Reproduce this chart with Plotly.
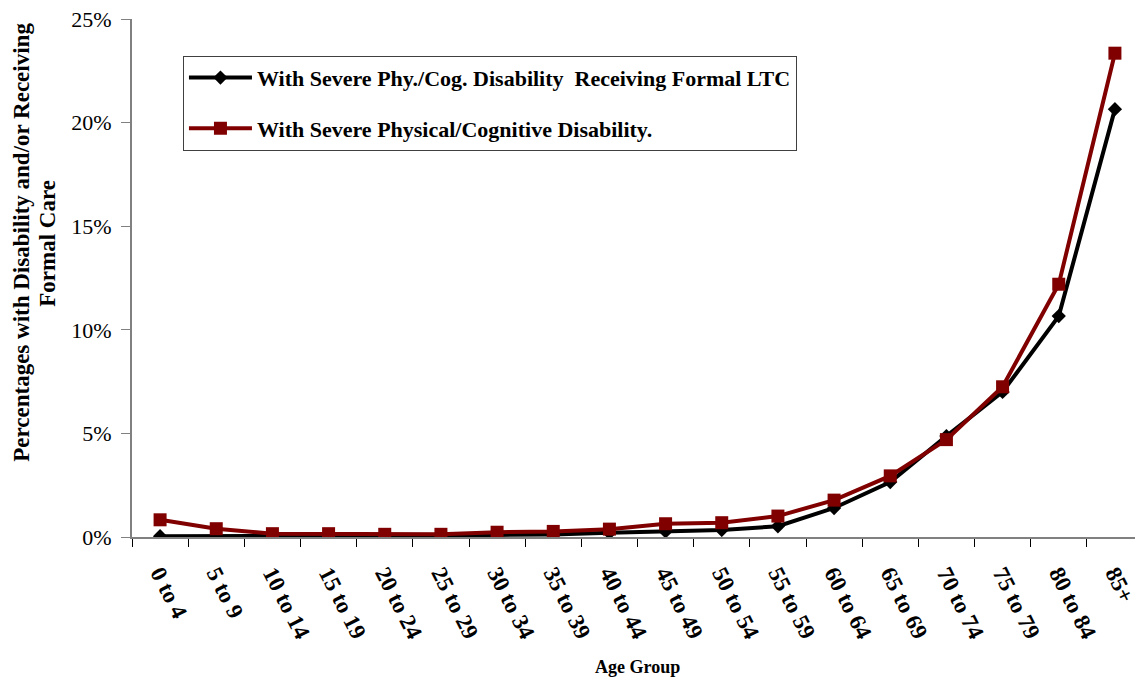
import plotly.graph_objects as go

age_groups = ["0 to 4", "5 to 9", "10 to 14", "15 to 19", "20 to 24", "25 to 29",
              "30 to 34", "35 to 39", "40 to 44", "45 to 49", "50 to 54", "55 to 59",
              "60 to 64", "65 to 69", "70 to 74", "75 to 79", "80 to 84", "85+"]

ltc_values = [0.04, 0.04, 0.04, 0.05, 0.06, 0.07, 0.10, 0.12, 0.20, 0.27, 0.34,
              0.52, 1.40, 2.65, 4.87, 7.00, 10.66, 20.65]

disability_values = [0.83, 0.40, 0.16, 0.16, 0.13, 0.13, 0.23, 0.27, 0.38, 0.64, 0.69,
                     1.01, 1.78, 2.95, 4.70, 7.25, 12.20, 23.35]

y_ticks = [0, 5, 10, 15, 20, 25]
y_tick_labels = ["0%", "5%", "10%", "15%", "20%", "25%"]

serif = "Liberation Serif, Times New Roman, serif"

fig = go.Figure()
fig.add_trace(go.Scatter(
    x=age_groups, y=ltc_values, mode="lines+markers",
    name="With Severe Phy./Cog. Disability  Receiving Formal LTC",
    line=dict(color="#000000", width=4),
    marker=dict(symbol="diamond", size=11, color="#000000"),
    legendgroup="a",
))
fig.add_trace(go.Scatter(
    x=age_groups, y=disability_values, mode="lines+markers",
    name="With Severe Physical/Cognitive Disability.",
    line=dict(color="#800000", width=4),
    marker=dict(symbol="square", size=13, color="#800000"),
    legendgroup="b",
))

fig.update_layout(
    width=1135, height=672,
    margin=dict(l=124, r=0, t=11, b=143, autoexpand=False),
    paper_bgcolor="white", plot_bgcolor="white",
    font=dict(family=serif, color="black"),
    showlegend=True,
    legend=dict(
        x=0.0504, y=0.929, xanchor="left", yanchor="top",
        bordercolor="#404040", borderwidth=1, bgcolor="white",
        font=dict(family=serif, size=22, color="black", weight="bold"),
        traceorder="grouped", tracegroupgap=19, itemwidth=63,
    ),
    xaxis=dict(
        type="category", showgrid=False, showline=True, linecolor="#808080", linewidth=2,
        ticks="outside", ticklen=8, tickcolor="#000000", tickson="boundaries",
        tickangle=63, ticklabelstandoff=12,
        tickfont=dict(family=serif, size=23, color="black", weight="bold"),
        range=[-0.5, 17.5], automargin=False,
    ),
    yaxis=dict(
        range=[0, 25], tickvals=y_ticks, ticktext=y_tick_labels,
        showgrid=False, showline=True, linecolor="#808080", linewidth=2,
        ticks="outside", ticklen=9, tickcolor="#808080", ticklabelstandoff=5,
        ticklabeloverflow="allow",
        tickfont=dict(family=serif, size=22, color="black"), zeroline=False,
        automargin=False,
    ),
    annotations=[
        dict(text="Age Group", xref="paper", yref="paper", x=0.5, y=-0.251,
             xanchor="center", yanchor="middle", showarrow=False,
             font=dict(family=serif, size=18, color="black", weight="bold")),
        dict(text="Percentages with Disability and/or Receiving",
             xref="paper", yref="paper", x=-0.1088, y=0.568, textangle=-90,
             xanchor="center", yanchor="middle", showarrow=False,
             font=dict(family=serif, size=23, color="black", weight="bold")),
        dict(text="Formal Care",
             xref="paper", yref="paper", x=-0.0831, y=0.568, textangle=-90,
             xanchor="center", yanchor="middle", showarrow=False,
             font=dict(family=serif, size=23, color="black", weight="bold")),
    ],
)

fig.write_html("out.html")
